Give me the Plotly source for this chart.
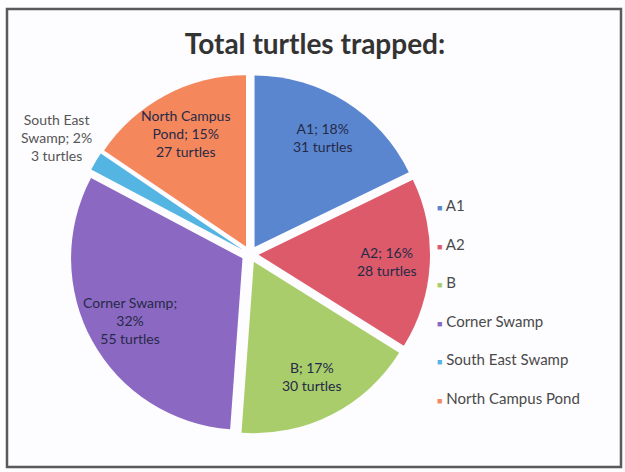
import math
import plotly.graph_objects as go

# Turtle counts per trapping site
sites = ["A1", "A2", "B", "Corner Swamp", "South East Swamp", "North Campus Pond"]
turtles = [31, 28, 30, 55, 3, 27]
pct_labels = [18, 16, 17, 32, 2, 15]
colors = ["#5a86d0", "#dc5a6a", "#a8cd6a", "#8b68c2", "#55b5e2", "#f5875c"]

# how each site name is wrapped inside its slice label
wrapped = {
    "Corner Swamp": "Corner Swamp;<br>{p}%",
    "South East Swamp": "South East<br>Swamp; {p}%",
    "North Campus Pond": "North Campus<br>Pond; {p}%",
}

slice_text = []
for name, n, p in zip(sites, turtles, pct_labels):
    head = wrapped.get(name, name + "; {p}%").format(p=p)
    slice_text.append(f"{head}<br>{n} turtles")

W, H = 625, 472
dom_x = [0.112, 0.688]
dom_y = [0.08, 0.843]
pull = 0.05

fig = go.Figure(
    go.Pie(
        labels=sites,
        values=turtles,
        text=slice_text,
        textinfo="none",
        sort=False,
        direction="clockwise",
        rotation=0,
        pull=[pull] * len(sites),
        marker=dict(colors=colors, line=dict(width=0)),
        domain=dict(x=dom_x, y=dom_y),
        showlegend=False,
        hoverinfo="label+value+percent",
    )
)

# slice labels placed along each slice's bisector (outside for the tiny slice)
cx = (dom_x[0] + dom_x[1]) / 2 * W
cy = (1 - (dom_y[0] + dom_y[1]) / 2) * H
radius = min((dom_x[1] - dom_x[0]) * W, (dom_y[1] - dom_y[0]) * H) / (2 + 2 * pull)
total = sum(turtles)
annotations = []
start = 0.0
for name, n, txt in zip(sites, turtles, slice_text):
    mid = (start + n / 2) / total * 2 * math.pi
    start += n
    small = n / total < 0.05
    k = 1.32 if small else 0.8
    x_px = cx + k * radius * math.sin(mid)
    y_px = cy - k * radius * math.cos(mid)
    annotations.append(
        dict(
            xref="paper", yref="paper",
            x=x_px / W, y=1 - y_px / H,
            xanchor="center", yanchor="middle",
            showarrow=False, text=txt,
            font=dict(family="Lato", size=14,
                      color="#555555" if small else "#262a48"),
        )
    )

# legend drawn as a column of coloured squares with site names
legend_top = 205
legend_step = 38.6
for i, (name, c) in enumerate(zip(sites, colors)):
    y_px = legend_top + i * legend_step
    annotations.append(
        dict(
            xref="paper", yref="paper",
            x=435 / W, y=1 - y_px / H,
            xanchor="left", yanchor="middle",
            showarrow=False,
            text=f"<span style='color:{c};font-size:9px'>■</span> {name}",
            font=dict(family="Lato", size=15, color="#4a4a4a"),
        )
    )

fig.update_layout(
    width=W,
    height=H,
    margin=dict(l=0, r=0, t=0, b=0),
    paper_bgcolor="#fdfcfe",
    plot_bgcolor="#fdfcfe",
    title=dict(
        text="<b>Total turtles trapped:</b>",
        x=315 / W, xanchor="center",
        y=1 - 44 / H, yanchor="middle",
        font=dict(family="Lato", size=28, color="#333333"),
    ),
    annotations=annotations,
    shapes=[
        dict(
            type="rect", xref="paper", yref="paper",
            x0=7 / W, x1=621 / W, y0=1 - 467 / H, y1=1 - 9 / H,
            line=dict(color="#5a5a5a", width=2.5),
            fillcolor="rgba(0,0,0,0)",
        )
    ],
)

fig.write_html("out.html")
